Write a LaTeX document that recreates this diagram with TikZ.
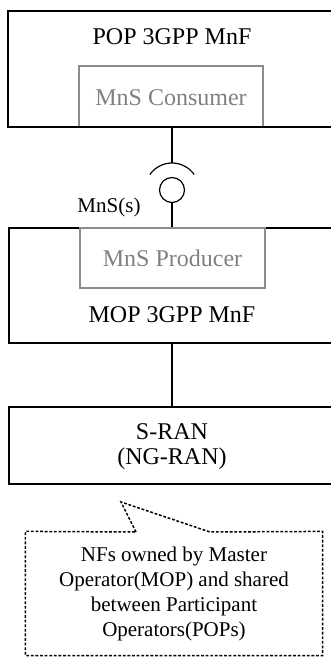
\documentclass[tikz,border=0pt]{standalone}
\usepackage{fontspec}
\setmainfont{Liberation Serif}
\begin{document}
\begin{tikzpicture}[x=0.5pt,y=-0.5pt,line width=0.6pt,
  mnf/.style={draw,inner sep=0pt},
  mns/.style={draw=black!45,inner sep=0pt},
  big/.style={font=\fontsize{12}{12.5}\selectfont,inner sep=0pt},
  small/.style={font=\fontsize{10.5}{12.5}\selectfont,inner sep=0pt},
  notebox/.style={draw,line width=0.75pt,dash pattern=on 1.4pt off 0.9pt}]
\useasboundingbox (0,0) rectangle (331,657);
\node[mns,minimum width=92pt,minimum height=30.5pt] (cons) at (171,96.5) {};
\node[mnf,minimum width=168.5pt,minimum height=58pt] (pop) at (176.5,69) {};
\node[big,anchor=base] (poptxt) at (172,45) {POP 3GPP MnF};
\node[big,anchor=base,text=black!50] (constxt) at (171,106) {MnS Consumer};
\node[mnf,minimum width=168pt,minimum height=57.5pt] (mop) at (177,285.5) {};
\node[mns,minimum width=92.5pt,minimum height=30pt] (prod) at (172.5,258) {};
\node[big,anchor=base,text=black!50] (prodtxt) at (172.5,267) {MnS Producer};
\node[big,anchor=base] (moptxt) at (172,322) {MOP 3GPP MnF};
\node[mnf,minimum width=168pt,minimum height=38.5pt] (sran) at (177,445.5) {};
\node[big,align=center] (srantxt) at (172,447) {S-RAN\\(NG-RAN)};
% interface
\node[circle,draw,minimum size=12.5pt,inner sep=0pt] (ball) at (172,190) {};
\coordinate (sock) at ([yshift=13.5pt]ball.center);
\draw ([shift={(145:13.5pt)}]ball.center) arc[start angle=145,end angle=35,radius=13.5pt];
\draw (cons.south -| sock) -- (sock);
\draw (ball.south) -- (ball.south |- prod.north);
\node[small,anchor=base] (mnss) at (109,213) {MnS(s)};
\draw (mop.south -| ball) -- (sran.north -| ball);
% note
\node[small,align=center,minimum width=148pt,minimum height=61.5pt] (note) at (174,593.5)
  {NFs owned by Master\\Operator(MOP) and shared\\between Participant\\Operators(POPs)};
\coordinate (tip) at (121,502);
\draw[notebox] (136,532) -- (tip) -- (210,532) -- (note.north east) -- (note.south east)
  -- (note.south west) -- (note.north west) -- cycle;
\end{tikzpicture}
\end{document}
